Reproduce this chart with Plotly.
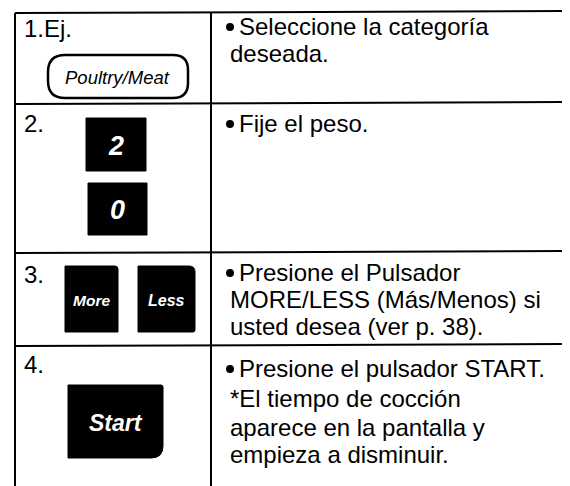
import plotly.graph_objects as go

# ---- content ----
steps = ["1.Ej.", "2.", "3.", "4."]
instructions = [
    ["Seleccione la categoría", "deseada."],
    ["Fije el peso."],
    ["Presione el Pulsador", "MORE/LESS (Más/Menos) si", "usted desea (ver p. 38)."],
    ["Presione el pulsador START.", "*El tiempo de cocción", "aparece en la pantalla y", "empieza a disminuir."],
]
key_labels = ["Poultry/Meat", "2", "0", "More", "Less", "Start"]

# ---- layout geometry (pixels, y downward) ----
W, H = 570, 486
left_x, mid_x, right_x = 7, 203, 570
top_y = 5
row_lines = [96, 245, 338]
bottom_y = 484
step_y = [20, 115, 266, 356]
text_y = [[18, 45], [115], [264, 291, 318], [360, 390, 419, 446]]
bullet_x, first_x, cont_x = 222, 229, 220
FONT = "Liberation Sans, Arial, Helvetica, sans-serif"
TS = 24

fig = go.Figure()
shapes = []
ann = []

def line(x0, y0, x1, y1, w=2):
    shapes.append(dict(type="line", x0=x0, y0=y0, x1=x1, y1=y1,
                       line=dict(color="black", width=w), layer="above"))

# table grid
line(left_x, top_y, right_x, top_y - 2)
line(left_x, top_y, left_x, H)
line(mid_x, top_y, mid_x, H)
for ry in row_lines:
    line(left_x, ry, right_x, ry - 2)
line(243, bottom_y, right_x, bottom_y)

def rrect(x0, y0, x1, y1, r=(0, 0, 0, 0)):
    # r = (top-left, top-right, bottom-right, bottom-left)
    tl, tr, br, bl = r
    p = f"M {x0+tl},{y0} L {x1-tr},{y0} Q {x1},{y0} {x1},{y0+tr} "
    p += f"L {x1},{y1-br} Q {x1},{y1} {x1-br},{y1} "
    p += f"L {x0+bl},{y1} Q {x0},{y1} {x0},{y1-bl} "
    p += f"L {x0},{y0+tl} Q {x0},{y0} {x0+tl},{y0} Z"
    return p

# Poultry/Meat outlined rounded key
shapes.append(dict(type="path", path=rrect(40, 47, 180, 90, (17, 15, 15, 17)),
                   line=dict(color="black", width=2.5), fillcolor="white"))
ann.append(dict(x=109, y=69, text=key_labels[0], showarrow=False,
                font=dict(family=FONT, size=18.5, color="black", style="italic"),
                xanchor="center", yanchor="middle"))

# black keys
keys = [
    (78, 110, 138, 163, (0, 0, 0, 0), key_labels[1], 27),
    (80, 175, 139, 227, (0, 0, 0, 0), key_labels[2], 27),
    (57, 258, 110, 324, (0, 3, 0, 0), key_labels[3], 15.5),
    (130, 258, 187, 324, (0, 6, 2, 0), key_labels[4], 16),
    (60, 377, 155, 450, (0, 2, 12, 0), key_labels[5], 23),
]
for x0, y0, x1, y1, r, lab, fs in keys:
    shapes.append(dict(type="path", path=rrect(x0, y0, x1, y1, r),
                       line=dict(color="black", width=1), fillcolor="black"))
    ann.append(dict(x=(x0 + x1) / 2, y=(y0 + y1) / 2 + 1, text=f"<b>{lab}</b>", showarrow=False,
                    font=dict(family=FONT, size=fs, color="white", style="italic"),
                    xanchor="center", yanchor="middle"))

# step numbers
for s, y in zip(steps, step_y):
    ann.append(dict(x=14, y=y, text=s, showarrow=False,
                    font=dict(family=FONT, size=TS, color="black"),
                    xanchor="left", yanchor="middle"))

# instruction text (first line after bullet, continuation lines hang under bullet)
bx, by = [], []
for lines_, ys in zip(instructions, text_y):
    bx.append(bullet_x)
    by.append(ys[0] + 1)
    for i, (t, y) in enumerate(zip(lines_, ys)):
        ann.append(dict(x=first_x if i == 0 else cont_x, y=y, text=t, showarrow=False,
                        font=dict(family=FONT, size=TS, color="black"),
                        xanchor="left", yanchor="middle"))

fig.add_trace(go.Scatter(x=bx, y=by, mode="markers", hoverinfo="skip",
                         marker=dict(color="black", size=8, symbol="circle")))

fig.update_layout(
    width=W, height=H, margin=dict(l=0, r=0, t=0, b=0),
    paper_bgcolor="white", plot_bgcolor="white", showlegend=False,
    shapes=shapes, annotations=ann,
    xaxis=dict(range=[0, W], visible=False, fixedrange=True),
    yaxis=dict(range=[H, 0], visible=False, fixedrange=True),
)
fig.write_html("out.html")
